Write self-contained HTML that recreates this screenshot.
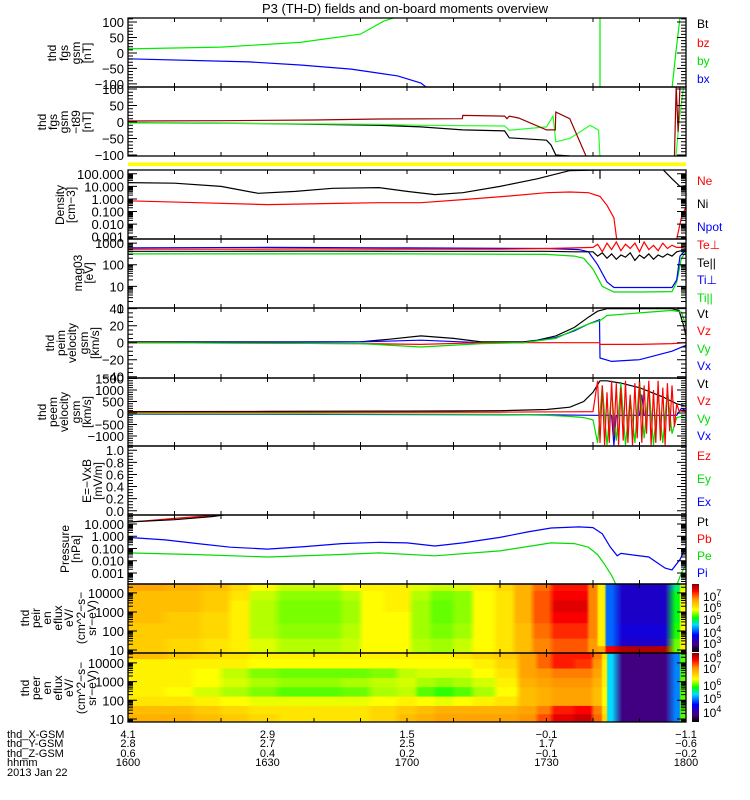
<!DOCTYPE html>
<html><head><meta charset="utf-8"><title>P3 (TH-D) overview</title>
<style>
html,body{margin:0;padding:0;background:#fff;}
svg{display:block;font-family:"Liberation Sans",sans-serif;}
</style></head>
<body>
<svg id="chart" width="750" height="800" viewBox="0 0 750 800" xmlns="http://www.w3.org/2000/svg">
<rect x="0" y="0" width="750" height="800" fill="#fff"/>
<text x="405" y="13" font-size="13" text-anchor="middle">P3 (TH-D) fields and on-board moments overview</text>
<defs id="defs"></defs>
<g id="specs"></g>
<g id="lines"></g>
<g id="axes"></g>
<g id="labels"></g>
</svg>
<script>
// ---------- data (time in minutes after 16:00; log panels hold log10 values) ----------
const timeTicks = [0, 30, 60, 90, 120];
const xGsm = ["4.1", "2.9", "1.5", "-0.1", "-1.1"];
const yGsm = ["2.8", "2.7", "2.5", "1.7", "-0.6"];
const zGsm = ["0.6", "0.4", "0.2", "-0.1", "-0.2"];
const hhmm = ["1600", "1630", "1700", "1730", "1800"];

// panel 1 fgs gsm
const byT = [0, 20, 37, 50, 55, 57.5, null, 101.5, 101.5, null, 117, 117.8, 118.7];
const byV = [13, 19, 34, 61, 103, 115, null, -115, 115, null, -115, 0, 115];
const bxT = [0, 26, 37, 48, 58, 63, 64.5];
const bxV = [-19, -29, -39, -52, -74, -97, -115];
// panel 2 fgs gsm - t89
const dbzT = [0, 20, 40, 54, 71.9, 72, 81, 81.5, 82, 84, 90, 91.9, 92, 95, 98.7, null, 117.5, 117.9, 118.3, 118.7];
const dbzV = [3, 4, 6, 9, 10, 20, 18, 10, 18, 12, -24, -24, 30, 10, -110, null, -110, 110, -30, 110];
const dbyT = [0, 30, 54, 63, 81, 82, 90, 91.4, 92, 95, 99.4, 101.2, 101.5, null, 117.8, 118.5, 119.5];
const dbyV = [-3, -5, -7, -10, -12, -25, -15, 18, -60, -50, -10, -25, -110, null, -110, 0, 110];
const dbtT = [0, 30, 54, 63, 72, 81, 82, 90, 91, 92, 95];
const dbtV = [-2, -5, -10, -15, -24, -27, -48, -55, -70, -100, -103];
// panel 3 density (log10 cm^-3)
const niT = [0, 10, 20, 28, 36, 44, 54, 60, 66, 72, 80, 88, 95, 101.5, null, 101.5, 101.5, null, 115, 117, 118.7, 120];
const niV = [1.3, 1.25, 1.0, 0.45, 0.6, 0.85, 0.9, 0.6, 0.35, 0.5, 1.0, 1.6, 2.25, 2.3, null, 2.3, 1.6, null, 2.35, 1.6, 1.0, 1.05];
const neT = [0, 15, 30, 45, 54, 63, 72, 81, 90, 95, 99, 101.5, 103, 104.5, 105.2, null, 117.8, 119, 120];
const neV = [-0.15, -0.3, -0.45, -0.35, -0.3, -0.3, -0.05, 0.2, 0.5, 0.55, 0.5, 0.2, -0.5, -1.5, -3.5, null, -3.5, -1.5, -0.6];
// panel 4 temperature (log10 eV)
const tepT = [0, 20, 40, 60, 80, 90, 96, 100, 101, 102, 103, 104, 105, 106, 107, 108, 109, 110, 111, 112, 113, 114, 115, 116, 117, 118, 119, 120];
const tepV = [2.72, 2.72, 2.73, 2.72, 2.72, 2.75, 2.78, 2.8, 2.95, 2.6, 3.0, 2.7, 3.05, 2.65, 2.95, 2.75, 3.0, 2.6, 3.05, 2.7, 2.9, 2.65, 3.0, 2.75, 2.9, 2.8, 2.8, 2.75];
const telT = [0, 20, 40, 60, 80, 90, 96, 100, 101, 102, 103, 104, 105, 106, 107, 108, 109, 110, 111, 112, 113, 114, 115, 116, 117, 118, 119, 120];
const telV = [2.62, 2.62, 2.63, 2.62, 2.62, 2.62, 2.6, 2.6, 2.4, 2.55, 2.3, 2.5, 2.25, 2.45, 2.35, 2.55, 2.2, 2.45, 2.3, 2.5, 2.25, 2.45, 2.35, 2.5, 2.4, 2.6, 2.65, 2.65];
const tipT = [0, 30, 60, 90, 97, 99, 101, 103, 104.5, 110, 117, 118, 118.7, 120];
const tipV = [2.78, 2.8, 2.78, 2.75, 2.7, 2.6, 2.0, 1.2, 0.95, 0.95, 0.95, 1.3, 2.4, 2.7];
const tilT = [0, 30, 60, 90, 96, 98, 100, 102, 104.5, 110, 117, 118, 119, 120];
const tilV = [2.5, 2.5, 2.5, 2.48, 2.4, 2.3, 1.8, 1.0, 0.74, 0.74, 0.76, 1.2, 2.3, 2.6];
// panel 5 peim velocity (km/s)
const vtT = [0, 50, 56, 63, 70, 76, 85, 88, 92, 96, 99, 101, 103, 110, 117, 118.5, 119.5, 120];
const vtV = [1, 1, 4, 8, 5, 1, 1, 3, 8, 18, 30, 37, 40, 40, 40, 38, 20, 8];
const vyT = [0, 50, 63, 76, 85, 92, 96, 99, 101.5, 103, 110, 117, 119, 120];
const vyV = [0, -1, -5, -1, 0, 5, 15, 22, 26, 32, 35, 38, 36, 20];
const vxT = [0, 50, 63, 76, 85, 92, 96, 99, 101.4, 101.5, 104, 110, 117, 120];
const vxV = [0, 1, 3, 0, 0, 6, 14, 22, 27, -18, -22, -20, -10, -3];
const vzT = [0, 50, 63, 76, 90, 101.4, 101.5, 110, 117, 120];
const vzV = [0, -1, -2, 0, 0, 0, -2, -2, -1, 0];
// panel 6 peem velocity (km/s)
const evtT = [0, 30, 60, 80, 90, 95, 98, 100, 101.5, 103, 106, 110, 115, 118, 120];
const evtV = [60, 70, 80, 100, 150, 250, 500, 900, 1400, 1400, 1300, 1100, 700, 400, 300];
const evzT = [0, 40, 80, 95, 100, 101, 101.5, 102, 102.5, 103, 103.5, 104, 104.5, 105, 105.5, 106, 106.5, 107, 107.5, 108, 108.5, 109, 109.5, 110, 110.5, 111, 111.5, 112, 112.5, 113, 113.5, 114, 114.5, 115, 115.5, 116, 116.5, 117, 117.5, 118, 118.5, 120];
const evzV = [30, 30, 40, 50, 60, 1400, -1300, 1200, -1400, 900, -1300, 1400, -1000, 1300, -1400, 1100, -1200, 1400, -1300, 800, -1400, 1300, -1100, 1400, -1300, 1200, -900, 1400, -1400, 1000, -1300, 1400, -1200, 1100, -1400, 1300, -800, 1200, -600, 400, 100, 50];
const evyT = [0, 40, 80, 90, 95, 98, 100, 101, 102, 103, 104, 105, 106, 107, 108, 109, 110, 111, 112, 113, 114, 115, 116, 117, 118, 120];
const evyV = [-30, -40, -60, -100, -150, -200, -300, -1300, 1200, -1400, 900, -1200, 1300, -1400, 700, -1300, 1400, -1100, 1200, -1400, 800, -1300, 1000, -900, -200, -100];
const evxT = [0, 90, 100, 104, 104.5, 105, 110, 110.5, 111, 118, 119, 120];
const evxV = [-50, -80, -100, -100, -1400, -100, -100, 800, -100, -100, 200, 100];
// panel 8 pressure (log10 nPa)
const ptT = [0, 10, 18, 22, 24];
const ptV = [1.16, 1.35, 1.6, 1.8, 1.9];
const pbT = [0, 5, 10, 15, 20];
const pbV = [1.14, 1.3, 1.45, 1.6, 1.75];
const piT = [0, 8, 15, 22, 30, 38, 46, 54, 60, 66, 72, 80, 86, 91, 97, 100, 102, 103.7, 105.2, 106, 112, 115.5, 117, 118.7, 120];
const piV = [-0.1, -0.3, -0.6, -0.9, -1.05, -0.85, -0.6, -0.5, -0.55, -0.8, -0.55, -0.1, 0.35, 0.67, 0.76, 0.7, 0.2, -0.87, -1.6, -1.4, -1.7, -2.6, -2.75, -1.9, -0.87];
const peT = [0, 15, 30, 45, 54, 66, 80, 91, 96, 99, 101, 102.5, 104, 105, null, 118, 119, 120];
const peV = [-1.36, -1.5, -1.7, -1.5, -1.36, -1.6, -1.2, -0.55, -0.6, -0.9, -1.5, -2.3, -3.2, -4, null, -4, -3, -2.3];
// panel 9 ion spectrogram (log10 eflux), time edges and energy edges (log10 eV)
const ionTimes = [0, 8, 16, 22, 26, 32, 40, 46, 50, 55, 61, 65, 70, 74, 79, 83, 87, 91, 96, 99, 101, 102.7, 104.3, 117.5, 118.7, 120];
const ionEnergies = [4.47, 4.1, 3.6, 3.0, 2.4, 1.6, 1.2, 0.84];
const ionRow0 = [6.6, 6.5, 6.4, 6.2, 5.9, 5.75, 5.75, 5.9, 6.0, 6.0, 5.8, 5.75, 5.8, 6.0, 6.2, 6.5, 6.9, 7.3, 7.3, 6.8, 6.0, 4.3, 3.6, 5.0, 5.8];
const ionRow1 = [6.4, 6.4, 6.3, 6.1, 5.75, 5.6, 5.6, 5.7, 5.9, 6.0, 5.7, 5.55, 5.6, 5.9, 6.1, 6.5, 7.0, 7.4, 7.4, 6.8, 6.0, 4.3, 3.6, 5.2, 5.9];
const ionRow2 = [6.4, 6.4, 6.3, 6.0, 5.7, 5.55, 5.55, 5.65, 5.9, 6.0, 5.65, 5.5, 5.6, 5.9, 6.1, 6.5, 7.0, 7.5, 7.5, 6.8, 6.0, 4.3, 3.6, 5.2, 5.9];
const ionRow3 = [6.4, 6.3, 6.2, 6.0, 5.7, 5.55, 5.55, 5.65, 5.9, 5.9, 5.65, 5.5, 5.6, 5.9, 6.1, 6.5, 7.0, 7.4, 7.4, 6.8, 6.0, 4.3, 3.6, 5.2, 5.9];
const ionRow4 = [6.3, 6.3, 6.2, 6.0, 5.7, 5.6, 5.6, 5.7, 5.9, 5.9, 5.65, 5.55, 5.65, 5.9, 6.1, 6.4, 6.9, 7.2, 7.2, 6.8, 6.0, 4.3, 3.7, 5.3, 5.9];
const ionRow5 = [6.3, 6.2, 6.1, 6.0, 5.8, 5.7, 5.7, 5.75, 5.9, 5.9, 5.7, 5.65, 5.75, 5.9, 6.1, 6.4, 6.8, 7.0, 7.0, 6.7, 6.0, 4.3, 3.6, 5.5, 6.0];
const ionRow6 = [6.3, 6.2, 6.1, 6.0, 5.8, 5.7, 5.7, 5.75, 5.9, 5.9, 5.7, 5.65, 5.75, 5.9, 6.1, 6.4, 6.8, 7.0, 7.0, 6.7, 6.6, 7.4, 7.7, 5.5, 6.0];
// panel 10 electron spectrogram
const eleTimes = [0, 8, 14, 20, 26, 32, 40, 46, 52, 58, 62, 66, 70, 74, 79, 84, 88, 91, 96, 100, 102, 103, 104.3, 117.5, 118.7, 120];
const eleEnergies = [4.53, 4.2, 3.7, 3.2, 2.7, 2.2, 1.7, 1.25, 0.84];
const eleRow0 = [6.9, 6.8, 6.7, 6.6, 6.5, 6.5, 6.5, 6.5, 6.5, 6.5, 6.5, 6.5, 6.6, 6.7, 6.8, 7.1, 7.4, 7.7, 7.7, 7.3, 6.6, 5.3, 3.85, 5.0, 6.0];
const eleRow1 = [6.5, 6.5, 6.5, 6.5, 6.4, 6.4, 6.4, 6.4, 6.4, 6.4, 6.4, 6.4, 6.4, 6.5, 6.7, 7.1, 7.4, 7.7, 7.6, 7.2, 6.5, 5.3, 3.85, 5.0, 6.0];
const eleRow2 = [6.5, 6.5, 6.4, 6.25, 6.1, 6.05, 6.05, 6.05, 6.1, 6.25, 6.3, 6.3, 6.3, 6.4, 6.6, 7.1, 7.2, 7.3, 7.3, 7.1, 6.5, 5.3, 3.85, 5.0, 6.0];
const eleRow3 = [6.5, 6.5, 6.4, 6.3, 6.2, 6.15, 6.15, 6.2, 6.25, 6.3, 6.2, 6.15, 6.2, 6.3, 6.5, 7.0, 7.1, 7.2, 7.2, 7.0, 6.5, 5.3, 3.85, 5.0, 6.0];
const eleRow4 = [6.5, 6.4, 6.3, 6.2, 6.1, 6.0, 6.0, 6.05, 6.2, 6.25, 6.0, 5.9, 6.0, 6.2, 6.4, 6.9, 7.0, 7.1, 7.1, 6.9, 6.4, 5.3, 3.85, 5.0, 6.0];
const eleRow5 = [6.6, 6.6, 6.5, 6.4, 6.35, 6.35, 6.35, 6.35, 6.4, 6.5, 6.4, 6.35, 6.4, 6.5, 6.6, 6.9, 7.0, 7.1, 7.1, 6.9, 6.4, 5.3, 3.85, 5.0, 6.0];
const eleRow6 = [6.9, 6.9, 6.8, 6.7, 6.6, 6.6, 6.6, 6.6, 6.7, 6.8, 6.9, 7.0, 7.0, 7.0, 7.0, 7.1, 7.3, 7.7, 7.8, 7.3, 6.6, 5.3, 3.85, 5.0, 6.0];
const eleRow7 = [7.0, 7.0, 6.9, 6.8, 6.7, 6.6, 6.6, 6.6, 6.7, 6.9, 7.0, 7.1, 7.1, 7.1, 7.1, 7.2, 7.5, 7.9, 8.0, 7.4, 6.7, 5.3, 3.85, 5.0, 6.0];

// ---------- layout ----------
const NS = "http://www.w3.org/2000/svg";
const X0 = 128, X1 = 686;
const panels = {
  fgs:   {top: 18,  bot: 87,  min: -110, max: 113, log: false},
  fgs2:  {top: 87,  bot: 156, min: -103, max: 106, log: false},
  dens:  {top: 170, bot: 239, min: -3.18, max: 2.3, log: true},
  temp:  {top: 239, bot: 308, min: 0, max: 3.19, log: true},
  vim:   {top: 308, bot: 378, min: -41.5, max: 40.8, log: false},
  vem:   {top: 378, bot: 446, min: -1435, max: 1520, log: false},
  efld:  {top: 446, bot: 515, min: -0.07, max: 1.07, log: false},
  pres:  {top: 515, bot: 584, min: -3.9, max: 1.73, log: true},
  ispec: {top: 584, bot: 653, min: 0.84, max: 4.47, log: true},
  espec: {top: 653, bot: 722, min: 0.84, max: 4.53, log: true}
};
function xs(m) { return X0 + m * (X1 - X0) / 120; }
function ys(p, v) { return p.bot - (v - p.min) / (p.max - p.min) * (p.bot - p.top); }
function mk(tag, attrs, parent) {
  const e = document.createElementNS(NS, tag);
  for (const k in attrs) e.setAttribute(k, attrs[k]);
  parent.appendChild(e);
  return e;
}
const defs = document.getElementById('defs');
const gSpec = document.getElementById('specs');
const gLines = document.getElementById('lines');
const gAxes = document.getElementById('axes');
const gLab = document.getElementById('labels');

for (const key in panels) {
  const p = panels[key];
  const cp = mk('clipPath', {id: 'clip-' + key}, defs);
  mk('rect', {x: X0, y: p.top, width: X1 - X0, height: p.bot - p.top}, cp);
}

function drawLine(pk, T, V, color, name) {
  const p = panels[pk];
  let pts = [];
  const segs = [];
  for (let i = 0; i < T.length; i++) {
    if (T[i] === null || V[i] === null) { if (pts.length) segs.push(pts); pts = []; continue; }
    pts.push(xs(T[i]).toFixed(1) + ',' + ys(p, V[i]).toFixed(1));
  }
  if (pts.length) segs.push(pts);
  segs.forEach(s => {
    const pl = mk('polyline', {points: s.join(' '), fill: 'none', stroke: color, 'stroke-width': 1.2, 'clip-path': 'url(#clip-' + pk + ')'}, gLines);
    
    
  });
}

// ---------- colormap ----------
const cmapStops = [[0, [0, 0, 0]], [0.1, [70, 0, 120]], [0.25, [0, 0, 255]], [0.4, [0, 220, 255]], [0.5, [0, 255, 0]], [0.62, [255, 255, 0]], [0.78, [255, 150, 0]], [0.9, [255, 0, 0]], [1, [128, 0, 0]]];
function cmap(f) {
  f = Math.max(0, Math.min(1, f));
  for (let i = 1; i < cmapStops.length; i++) {
    if (f <= cmapStops[i][0]) {
      const a = cmapStops[i - 1], b = cmapStops[i];
      const u = (f - a[0]) / (b[0] - a[0]);
      const c = a[1].map((v, j) => Math.round(v + (b[1][j] - v) * u));
      return 'rgb(' + c.join(',') + ')';
    }
  }
  return 'rgb(128,0,0)';
}
let gradCount = 0;
function drawSpec(pk, times, energies, rows, cmin, cmax, name) {
  const p = panels[pk];
  rows.forEach((row, r) => {
    const y0 = ys(p, energies[r]), y1 = ys(p, energies[r + 1]);
    const gid = 'sg' + (gradCount++);
    const g = mk('linearGradient', {id: gid, gradientUnits: 'userSpaceOnUse', x1: X0, y1: 0, x2: X1, y2: 0}, defs);
    row.forEach((v, c) => {
      const x0 = xs(times[c]), x1 = xs(times[c + 1]);
      const w = x1 - x0;
      const col = cmap((v - cmin) / (cmax - cmin));
      const a = (x0 + w * 0.15 - X0) / (X1 - X0), b = (x1 - w * 0.15 - X0) / (X1 - X0);
      mk('stop', {offset: a.toFixed(4), 'stop-color': col}, g);
      mk('stop', {offset: b.toFixed(4), 'stop-color': col}, g);
    });
    const rc = mk('rect', {x: X0, y: y0.toFixed(1), width: X1 - X0, height: (y1 - y0 + 0.6).toFixed(1), fill: 'url(#' + gid + ')', 'clip-path': 'url(#clip-' + pk + ')'}, gSpec);
    
    
  });
}
drawSpec('ispec', ionTimes, ionEnergies, [ionRow0, ionRow1, ionRow2, ionRow3, ionRow4, ionRow5, ionRow6], 2.6, 7.9, 'ion-spectrogram');
drawSpec('espec', eleTimes, eleEnergies, [eleRow0, eleRow1, eleRow2, eleRow3, eleRow4, eleRow5, eleRow6, eleRow7], 3.3, 8.3, 'electron-spectrogram');

// yellow bar
const yb = mk('rect', {x: X0, y: 162.5, width: X1 - X0, height: 3.5, fill: '#ffff00'}, gAxes);



// lines
drawLine('fgs', bxT, bxV, '#0000ff', 'bx-line');
drawLine('fgs', byT, byV, '#00ee00', 'by-line');
drawLine('fgs2', dbtT, dbtV, '#000000', 'dbt-line');
drawLine('fgs2', dbyT, dbyV, '#22ff22', 'dby-line');
drawLine('fgs2', dbzT, dbzV, '#990000', 'dbz-line');
drawLine('dens', neT, neV, '#ff0000', 'ne-line');
drawLine('dens', niT, niV, '#000000', 'ni-line');
drawLine('temp', tilT, tilV, '#00dd00', 'ti-par-line');
drawLine('temp', tipT, tipV, '#0000ff', 'ti-perp-line');
drawLine('temp', telT, telV, '#000000', 'te-par-line');
drawLine('temp', tepT, tepV, '#ff0000', 'te-perp-line');
drawLine('vim', vtT, vtV, '#000000', 'vt-line');
drawLine('vim', vxT, vxV, '#0000ff', 'vx-line');
drawLine('vim', vzT, vzV, '#ff0000', 'vz-line');
drawLine('vim', vyT, vyV, '#00dd00', 'vy-line');
drawLine('vem', evtT, evtV, '#000000', 'evt-line');
drawLine('vem', evxT, evxV, '#0000ff', 'evx-line');
drawLine('vem', evyT, evyV, '#00dd00', 'evy-line');
drawLine('vem', evzT, evzV, '#ff0000', 'evz-line');
drawLine('pres', pbT, pbV, '#ff0000', 'pb-line');
drawLine('pres', ptT, ptV, '#000000', 'pt-line');
drawLine('pres', peT, peV, '#00dd00', 'pe-line');
drawLine('pres', piT, piV, '#0000ff', 'pi-line');

// ---------- axes ----------
const yTicks = {
  fgs:  {vals: [100, 50, 0, -50, -100], labs: ['100', '50', '0', '−50', '−100'], minor: 10},
  fgs2: {vals: [100, 50, 0, -50, -100], labs: ['100', '50', '0', '−50', '−100'], minor: 10},
  dens: {vals: [2, 1, 0, -1, -2, -3], labs: ['100.000', '10.000', '1.000', '0.100', '0.010', '0.001']},
  temp: {vals: [3, 2, 1, 0], labs: ['1000', '100', '10', '1']},
  vim:  {vals: [40, 20, 0, -20, -40], labs: ['40', '20', '0', '−20', '−40'], minor: 5},
  vem:  {vals: [1500, 1000, 500, 0, -500, -1000], labs: ['1500', '1000', '500', '0', '−500', '−1000'], minor: 100},
  efld: {vals: [1, 0.8, 0.6, 0.4, 0.2, 0], labs: ['1.0', '0.8', '0.6', '0.4', '0.2', '0.0'], minor: 0.05},
  pres: {vals: [1, 0, -1, -2, -3], labs: ['10.000', '1.000', '0.100', '0.010', '0.001']},
  ispec: {vals: [4, 3, 2, 1], labs: ['10000', '1000', '100', '10']},
  espec: {vals: [4, 3, 2, 1], labs: ['10000', '1000', '100', '10']}
};
let axisPath = '';
for (const key in panels) {
  const p = panels[key], t = yTicks[key];
  const fr = mk('rect', {x: X0, y: p.top, width: X1 - X0, height: p.bot - p.top, fill: 'none', stroke: '#000', 'stroke-width': 1.3}, gAxes);
  
  
  for (let m = 10; m < 120; m += 10) {
    const x = xs(m);
    axisPath += 'M' + x + ' ' + p.top + 'v4M' + x + ' ' + p.bot + 'v-4';
  }
  t.vals.forEach((v, i) => {
    const y = ys(p, v);
    if (y < p.top - 0.5 || y > p.bot + 0.5) return;
    axisPath += 'M' + X0 + ' ' + y + 'h9M' + X1 + ' ' + y + 'h-9';
    const tx = mk('text', {x: 124, y: (y + 5).toFixed(1), 'font-size': 13, 'text-anchor': 'end'}, gLab);
    tx.textContent = t.labs[i];
    
    
  });
  if (p.log) {
    for (let d = Math.floor(p.min); d < p.max; d++) {
      for (let k = 2; k <= 9; k++) {
        const lv = d + Math.log10(k);
        if (lv < p.min || lv > p.max) continue;
        const y = ys(p, lv);
        axisPath += 'M' + X0 + ' ' + y + 'h5M' + X1 + ' ' + y + 'h-5';
      }
    }
  } else {
    for (let v = Math.ceil(p.min / t.minor) * t.minor; v <= p.max; v += t.minor) {
      const y = ys(p, v);
      axisPath += 'M' + X0 + ' ' + y + 'h5M' + X1 + ' ' + y + 'h-5';
    }
  }
}
const ap = mk('path', {d: axisPath, stroke: '#000', 'stroke-width': 1, fill: 'none'}, gAxes);



// colorbars
function colorbar(id, y0, y1, labels, ys_, name) {
  const g = mk('linearGradient', {id: id, x1: 0, y1: 1, x2: 0, y2: 0}, defs);
  cmapStops.forEach(s => mk('stop', {offset: s[0], 'stop-color': 'rgb(' + s[1].join(',') + ')'}, g));
  const r = mk('rect', {x: 692, y: y0, width: 7, height: y1 - y0, fill: 'url(#' + id + ')'}, gAxes);
  
  
  labels.forEach((l, i) => {
    const t = mk('text', {x: 703, y: ys_[i] + 5, 'font-size': 12}, gLab);
    t.textContent = '10';
    const s = mk('tspan', {dy: -5, 'font-size': 9}, t);
    s.textContent = l;
    
    
  });
}
const ionBarLabels = ['7', '6', '5', '4', '3'];
const eleBarLabels = ['8', '7', '6', '5', '4'];
colorbar('cb-ion', 584, 652, ionBarLabels, [596, 607, 619, 632, 643], 'ion-colorbar');
colorbar('cb-ele', 653, 722, eleBarLabels, [657, 668, 685, 698, 712], 'electron-colorbar');

// legends (right)
const legendText = ['Bt', 'bz', 'by', 'bx', 'Ne', 'Ni', 'Npot', 'Te⊥', 'Te||', 'Ti⊥', 'Ti||', 'Vt', 'Vz', 'Vy', 'Vx', 'Vt', 'Vz', 'Vy', 'Vx', 'Ez', 'Ey', 'Ex', 'Pt', 'Pb', 'Pe', 'Pi'];
const legendColor = ['#000', '#f00', '#0d0', '#00f', '#f00', '#000', '#00f', '#f00', '#000', '#00f', '#0d0', '#000', '#f00', '#0d0', '#00f', '#000', '#f00', '#0d0', '#00f', '#f00', '#0d0', '#00f', '#000', '#f00', '#0d0', '#00f'];
const legendY = [23, 42, 60, 78, 180, 203, 226, 244, 262, 279, 297, 313, 330, 348, 365, 383, 400, 418, 435, 455, 478, 501, 521, 538, 555, 572];
legendText.forEach((s, i) => {
  const t = mk('text', {x: 697, y: legendY[i] + 5, 'font-size': 12, fill: legendColor[i]}, gLab);
  t.textContent = s;
  
  
});

// y-axis titles
const titles = [
  [['thd', 'fgs', 'gsm', '[nT]'], [52, 64, 76, 87], 53],
  [['thd', 'fgs', 'gsm', '−t89', '[nT]'], [42, 53, 64, 76, 87], 122],
  [['Density', '[cm−3]'], [60, 71], 205],
  [['mag03', '[eV]'], [78, 89], 273],
  [['thd', 'peim', 'velocity', 'gsm', '[km/s]'], [50, 61, 72, 84, 95], 343],
  [['thd', 'peem', 'velocity', 'gsm', '[km/s]'], [42, 53, 64, 76, 87], 412],
  [['E=−VxB', '[mV/m]'], [87, 98], 481],
  [['Pressure', '[nPa]'], [65, 76], 549],
  [['thd', 'peir', 'en', 'eflux', 'eV/', '(cm^2−s−', 'sr−eV)'], [25, 36, 47, 58, 69, 81, 92], 618],
  [['thd', 'peer', 'en', 'eflux', 'eV/', '(cm^2−s−', 'sr−eV)'], [25, 36, 47, 58, 69, 81, 92], 688]
];
titles.forEach(tt => {
  tt[0].forEach((s, i) => {
    const t = mk('text', {transform: 'translate(' + (tt[1][i] + 4) + ',' + tt[2] + ') rotate(-90)', 'font-size': 12, 'text-anchor': 'middle'}, gLab);
    t.textContent = s;
    
    
  });
});

// bottom annotation rows
const rowNames = ['thd_X-GSM', 'thd_Y-GSM', 'thd_Z-GSM', 'hhmm', '2013 Jan 22'];
const rowY = [738, 747, 757, 766, 776];
rowNames.forEach((s, i) => {
  const t = mk('text', {x: 7, y: rowY[i], 'font-size': 11}, gLab);
  t.textContent = s;
  
  
});
[xGsm, yGsm, zGsm, hhmm].forEach((arr, r) => {
  arr.forEach((s, i) => {
    const t = mk('text', {x: xs(timeTicks[i]).toFixed(1), y: rowY[r], 'font-size': 11, 'text-anchor': 'middle'}, gLab);
    t.textContent = s.replace('-', '−');
    
    
  });
});
</script>
</body></html>
